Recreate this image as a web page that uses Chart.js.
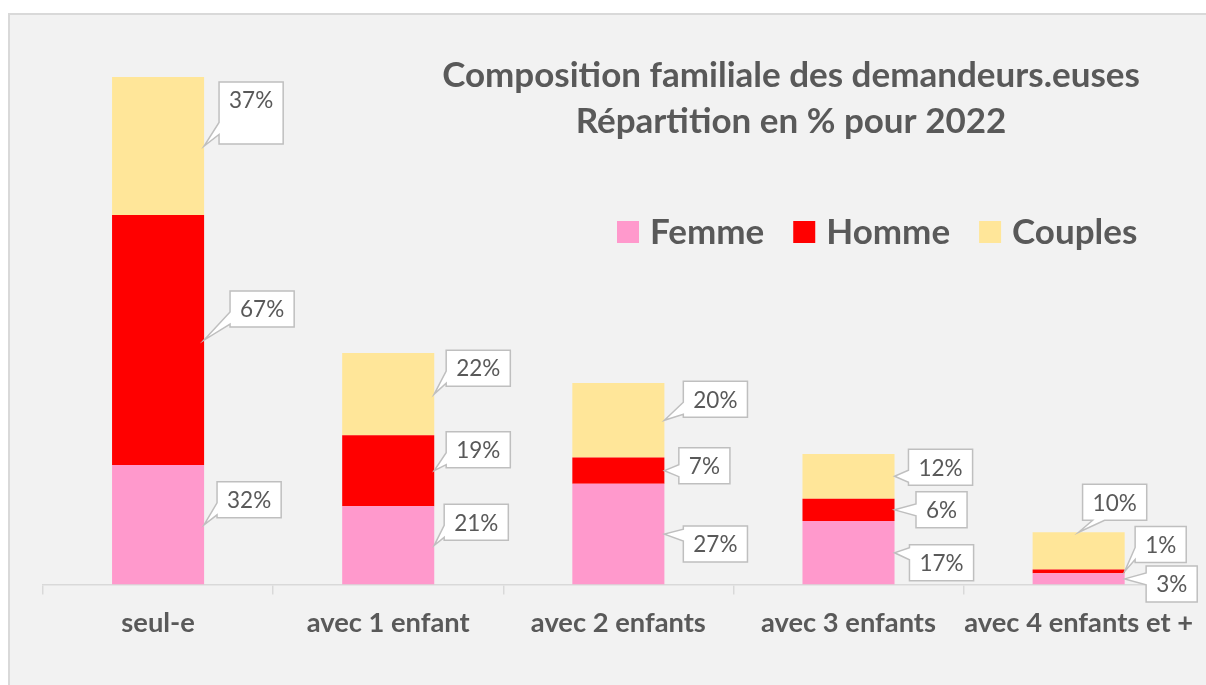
<!DOCTYPE html>
<html>
<head>
<meta charset="utf-8">
<title>Composition familiale des demandeurs.euses</title>
<script src="https://cdn.jsdelivr.net/npm/chart.js@4.4.1/dist/chart.umd.min.js"></script>
<style>
  html, body { margin: 0; padding: 0; background: #ffffff; }
  #wrap { width: 1206px; height: 685px; }
</style>
</head>
<body>
<div id="wrap"><canvas id="chart" width="1206" height="685"></canvas></div>
<script>
// Data
const categories = ["seul-e", "avec 1 enfant", "avec 2 enfants", "avec 3 enfants", "avec 4 enfants et +"];
const femme = [32, 21, 27, 17, 3];
const homme = [67, 19, 7, 6, 1];
const couples = [37, 22, 20, 12, 10];
const seriesNames = ["Femme", "Homme", "Couples"];
const titleLines = ["Composition familiale des demandeurs.euses", "Répartition en % pour 2022"];

const colors = ["#ff99cc", "#ff0000", "#ffe699"];
const textColor = "#595959";
const FONT = "Lato";

// callout layout: [dx, dy] from pointer tip to box centre, extra box height below, anchor
const calloutLayout = [
  [[45, -25], [42, -23], [51, 10], [47, 10], [47, 5]],
  [[58, -31], [44, -21], [40, -5], [47, 0], [36, -27]],
  [[47, -46, 26], [44, -26], [51, -21], [46, -9], [36, -30, 0, "top"]]
];

// light grey frame behind the whole chart
const framePlugin = {
  id: "frame",
  beforeDraw(chart) {
    const c = chart.ctx;
    c.save();
    c.fillStyle = "#ffffff";
    c.fillRect(0, 0, chart.width, chart.height);
    c.fillStyle = "#f2f2f2";
    c.fillRect(9, 14, chart.width, chart.height);
    c.strokeStyle = "#d9d9d9";
    c.lineWidth = 2;
    c.beginPath();
    c.moveTo(9, chart.height + 2);
    c.lineTo(9, 14);
    c.lineTo(chart.width + 2, 14);
    c.stroke();
    c.restore();
  }
};

function clamp(v, a, b) { return Math.max(a, Math.min(b, v)); }

function drawCallout(c, tipX, tipY, cx, cy, text, extra, anchor) {
  c.font = "22.5px " + FONT;
  const w = c.measureText(text).width + 20;
  const h = 36;
  const left = cx - w / 2, right = cx + w / 2;
  const top = cy - h / 2, bottom = cy + h / 2 + (extra || 0);
  const hw = 6;
  c.beginPath();
  if (anchor === "top") {
    const bx = clamp(tipX, left + w * 0.25, right - w * 0.25);
    c.moveTo(left, top);
    c.lineTo(right, top);
    c.lineTo(right, bottom);
    c.lineTo(bx + hw, bottom);
    c.lineTo(tipX, tipY);
    c.lineTo(bx - hw, bottom);
    c.lineTo(left, bottom);
  } else {
    const hh = bottom - top;
    const by = clamp(tipY, top + hh * 0.25, bottom - hh * 0.25);
    c.moveTo(left, top);
    c.lineTo(right, top);
    c.lineTo(right, bottom);
    c.lineTo(left, bottom);
    c.lineTo(left, by + hw);
    c.lineTo(tipX, tipY);
    c.lineTo(left, by - hw);
  }
  c.closePath();
  c.fillStyle = "#ffffff";
  c.fill();
  c.strokeStyle = "#bfbfbf";
  c.lineWidth = 1.5;
  c.stroke();
  c.fillStyle = textColor;
  c.textAlign = "center";
  c.textBaseline = "middle";
  c.fillText(text, cx, cy + 1);
}

// title, legend and value callouts
const annotatePlugin = {
  id: "annotate",
  afterDatasetsDraw(chart) {
    const c = chart.ctx;
    c.save();

    chart.data.datasets.forEach((ds, i) => {
      const meta = chart.getDatasetMeta(i);
      meta.data.forEach((bar, j) => {
        const p = bar.getProps(["x", "y", "base", "width"], true);
        const lay = calloutLayout[i][j];
        let tipX, tipY;
        if (lay[3] === "top") {
          tipX = p.x;
          tipY = p.y;
        } else {
          tipX = p.x + p.width / 2;
          tipY = (p.y + p.base) / 2;
        }
        drawCallout(c, tipX, tipY, tipX + lay[0], tipY + lay[1], ds.data[j] + "%", lay[2], lay[3]);
      });
    });

    // title
    c.fillStyle = textColor;
    c.textAlign = "center";
    c.textBaseline = "alphabetic";
    c.font = "bold 35px " + FONT;
    c.fillText(titleLines[0], 791, 87);
    c.fillText(titleLines[1], 791, 133);

    // legend
    c.font = "bold 35px " + FONT;
    const box = 22, gap = 11, itemGap = 29;
    let x = 617;
    c.textAlign = "left";
    chart.data.datasets.forEach(d => {
      c.fillStyle = d.backgroundColor;
      c.fillRect(x, 221, box, box);
      c.fillStyle = textColor;
      c.fillText(d.label, x + box + gap, 244);
      x += box + gap + c.measureText(d.label).width + itemGap;
    });

    c.restore();
  }
};

new Chart(document.getElementById("chart"), {
  type: "bar",
  data: {
    labels: categories,
    datasets: [
      { label: seriesNames[0], data: femme, backgroundColor: colors[0] },
      { label: seriesNames[1], data: homme, backgroundColor: colors[1] },
      { label: seriesNames[2], data: couples, backgroundColor: colors[2] }
    ]
  },
  options: {
    responsive: false,
    animation: false,
    layout: { padding: { left: 43, right: 10, top: 62, bottom: 0 } },
    datasets: { bar: { categoryPercentage: 1, barPercentage: 0.4 } },
    plugins: {
      legend: { display: false },
      title: { display: false },
      tooltip: { enabled: false }
    },
    scales: {
      x: {
        stacked: true,
        grid: { offset: true, drawOnChartArea: false, tickLength: 10, color: "#d9d9d9", lineWidth: 1.5 },
        border: { color: "#d9d9d9", width: 1.5 },
        ticks: {
          color: textColor,
          font: { family: FONT, size: 27.3, weight: "bold" },
          padding: 12,
          maxRotation: 0,
          autoSkip: false
        },
        afterFit(scale) { scale.height = 100.5; }
      },
      y: { stacked: true, display: false, min: 0, max: 140 }
    }
  },
  plugins: [framePlugin, annotatePlugin]
});
</script>
</body>
</html>
